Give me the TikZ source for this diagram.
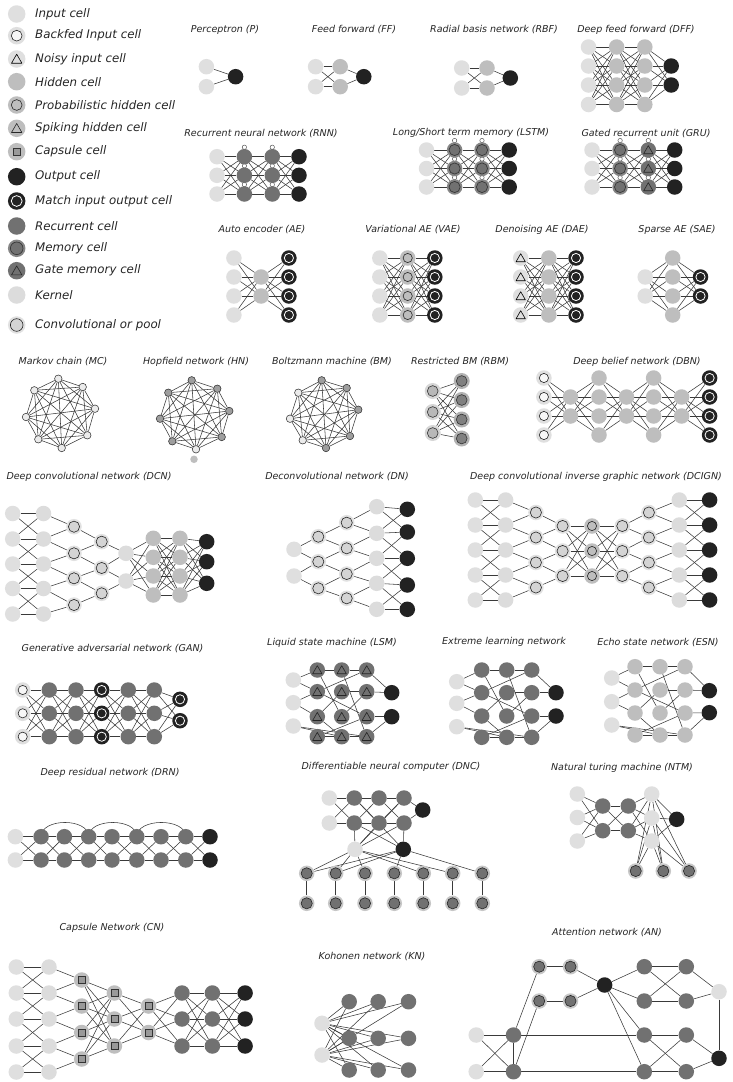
\documentclass[tikz,border=0pt]{standalone}
\usepackage{fontspec}
\setmainfont{DejaVu Sans}
\usetikzlibrary{calc}
\definecolor{cInC}{HTML}{DFDFDF}
\definecolor{cKernC}{HTML}{DCDCDC}
\definecolor{cConvC}{HTML}{D4D4D4}
\definecolor{cHidC}{HTML}{BEBEBE}
\definecolor{cRecC}{HTML}{717171}
\definecolor{cOutC}{HTML}{222222}
\definecolor{lnC}{HTML}{3A3A3A}
\pgfdeclarelayer{back}\pgfdeclarelayer{bg}\pgfsetlayers{back,bg,main}
\def\ri{4.6pt}\def\rc{5.6pt}\def\rs{3.4pt}\def\rt{5.4pt}
\newcommand\mytri[1]{\draw[#1, line width=0.6pt, line join=round] (path picture bounding box.center) ++(0pt,{0.8*\rt}) -- ++({-0.866*\rt},{-1.5*\rt}) -- ++({1.732*\rt},0pt) -- cycle;}
\tikzset{
 ln/.style={draw=lnC, line width=0.55pt},
 cell/.style={circle, inner sep=0pt, minimum size=15.5pt, draw=none},
 cIn/.style={cell, fill=cInC},
 cKern/.style={cell, fill=cKernC},
 cHid/.style={cell, fill=cHidC},
 cRec/.style={cell, fill=cRecC},
 cOut/.style={cell, fill=cOutC},
 cBack/.style={cIn, path picture={\draw[black!85, fill=white!75!cInC, line width=0.6pt] (path picture bounding box.center) circle (\ri);}},
 cConv/.style={cell, fill=cConvC!70!white, path picture={\draw[black!85, fill=cConvC, line width=0.6pt] (path picture bounding box.center) circle (\rc);}},
 cProb/.style={cHid, path picture={\draw[black!85, line width=0.6pt] (path picture bounding box.center) circle (\ri);}},
 cMatch/.style={cOut, path picture={\draw[white, line width=0.8pt] (path picture bounding box.center) circle (\ri);}},
 cMem/.style={cell, fill=black!48, path picture={\draw[black!78, fill=cRecC, line width=0.7pt] (path picture bounding box.center) circle (\rc);}},
 cMemL/.style={cell, fill=black!22, path picture={\draw[black!85, fill=cRecC, line width=0.6pt] (path picture bounding box.center) circle (\rc);}},
 cNoisy/.style={cIn, path picture={\mytri{black}}},
 cSpike/.style={cHid, path picture={\mytri{black!85}}},
 cGate/.style={cRec, path picture={\mytri{black!85}}},
 cCaps/.style={cHid, path picture={\draw[black!80, fill=black!40, line width=0.6pt] (path picture bounding box.center) ++(-\rs,-\rs) rectangle ++({2*\rs},{2*\rs});}},
 cRbmL/.style={cell, minimum size=16pt, fill=black!16, path picture={\draw[black!80, fill=black!28, line width=0.6pt] (path picture bounding box.center) circle (5.4pt);}},
 cRbmR/.style={cell, minimum size=16pt, fill=black!30, path picture={\draw[black!80, fill=black!50, line width=0.6pt] (path picture bounding box.center) circle (5.4pt);}},
 cSm/.style={circle, draw=black!85, line width=0.5pt, inner sep=0pt, minimum size=7.5pt, fill=#1},
 cSm/.default={black!8},
 ttl/.style={font=\fontsize{9.5}{11}\selectfont\itshape, text=black!85, inner sep=0pt},
 lgt/.style={font=\fontsize{11.8}{13}\selectfont\itshape, text=black!85, anchor=west, inner sep=0pt},
}
\newcommand\bgl[1]{\begin{pgfonlayer}{bg}#1\end{pgfonlayer}}
\newcommand\edg[2]{\draw[ln] (#1) -- (#2);}
\newcommand\ncol[4]{\foreach \yy [count=\kq] in {#4}{\node[#2] (#1\kq) at (#3,\yy) {};}}
\newcommand\fullc[4]{\foreach \ii in {1,...,#2}{\foreach \jj in {1,...,#4}{\edg{#1\ii}{#3\jj}}}}
\newcommand\zigc[3]{\foreach \jj [evaluate=\jj as \kk using int(\jj+1)] in {1,...,#3}{\edg{#1\jj}{#2\jj}\edg{#1\kk}{#2\jj}}}
\newcommand\kerx[3]{\foreach \jj in {1,...,#3}{\edg{#1\jj}{#2\jj}}\foreach \kk [evaluate=\kk as \jj using int(\kk-1)] in {2,...,#3}{\edg{#1\jj}{#2\kk}\edg{#1\kk}{#2\jj}}}
\newcommand\loopc[2]{\foreach \kq in {1,...,#2}{\draw[black!70,line width=0.45pt,fill=white] ([yshift=1.5pt]#1\kq.north) circle (2.2pt);}}
\newcommand\kgraph[1]{\foreach \ii in {1,...,8}{\foreach \jj in {1,...,8}{\ifnum\ii<\jj\relax\edg{#1\ii}{#1\jj}\fi}}}
\newcommand\lsmedges[1]{\edg{#1I1}{#1A1}\edg{#1I1}{#1A2}\edg{#1I2}{#1A2}\edg{#1I2}{#1A3}\edg{#1I3}{#1B4}\edg{#1I3}{#1C4}%
\edg{#1A1}{#1B1}\edg{#1B1}{#1C1}\edg{#1A2}{#1C1}\edg{#1A2}{#1C3}\edg{#1B1}{#1C4}\edg{#1B2}{#1C2}\edg{#1A3}{#1B2}\edg{#1A3}{#1B4}%
\edg{#1A4}{#1B4}\edg{#1B4}{#1C4}\edg{#1B3}{#1C2}\edg{#1A4}{#1C3}\edg{#1A1}{#1B3}%
\edg{#1C1}{#1O1}\edg{#1C2}{#1O1}\edg{#1C3}{#1O2}\edg{#1C4}{#1O2}}
\begin{document}
\begin{tikzpicture}[x=1pt,y=-1pt]
\useasboundingbox (0,0) rectangle (732,1082);
\begin{pgfonlayer}{back}\fill[white] (0,0) rectangle (732,1082);\end{pgfonlayer}

% ---------------- legend
\begin{scope}
\def\ri{5.4pt}\def\rc{6.3pt}\def\rs{3.9pt}\def\rt{6pt}
\tikzset{lgc/.style={minimum size=17.5pt}}
\node[cIn,lgc] (lc1) at (16.7,14) {};
\node[cBack,lgc] (lc2) at (16.7,35.7) {};
\node[cNoisy,lgc] (lc3) at (16.7,59) {};
\node[cHid,lgc] (lc4) at (16.7,81.7) {};
\node[cProb,lgc] (lc5) at (16.7,105) {};
\node[cSpike,lgc] (lc6) at (16.7,128.3) {};
\node[cCaps,lgc] (lc7) at (16.7,151.7) {};
\node[cOut,lgc] (lc8) at (16.7,176.7) {};
\node[cMatch,lgc] (lc9) at (16.7,201) {};
\node[cRec,lgc] (lc10) at (16.7,226) {};
\node[cMem,lgc] (lc11) at (16.7,248.3) {};
\node[cGate,lgc] (lc12) at (16.7,270.7) {};
\node[cKern,lgc] (lc13) at (16.7,295) {};
\node[cConv,lgc] (lc14) at (16.7,325) {};
\end{scope}
\node[lgt] (lt1) at (35,14) {Input cell};
\node[lgt] (lt2) at (35,35.7) {Backfed Input cell};
\node[lgt] (lt3) at (35,59) {Noisy input cell};
\node[lgt] (lt4) at (35,81.7) {Hidden cell};
\node[lgt] (lt5) at (35,105) {Probabilistic hidden cell};
\node[lgt] (lt6) at (35,128.3) {Spiking hidden cell};
\node[lgt] (lt7) at (35,151.7) {Capsule cell};
\node[lgt] (lt8) at (35,176.7) {Output cell};
\node[lgt] (lt9) at (35,201) {Match input output cell};
\node[lgt] (lt10) at (35,226) {Recurrent cell};
\node[lgt] (lt11) at (35,248.3) {Memory cell};
\node[lgt] (lt12) at (35,270.7) {Gate memory cell};
\node[lgt] (lt13) at (35,295) {Kernel};
\node[lgt] (lt14) at (35,325) {Convolutional or pool};

% ---------------- titles
\node[ttl] (tP) at (225,30) {Perceptron (P)};
\node[ttl] (tFF) at (354,30) {Feed forward (FF)};
\node[ttl] (tRBF) at (494,30) {Radial basis network (RBF)};
\node[ttl] (tDFF) at (636,30) {Deep feed forward (DFF)};
\node[ttl] (tRNN) at (261,133.3) {Recurrent neural network (RNN)};
\node[ttl] (tLSTM) at (471,133.3) {Long/Short term memory (LSTM)};
\node[ttl] (tGRU) at (646,133.3) {Gated recurrent unit (GRU)};
\node[ttl] (tAE) at (262,230) {Auto encoder (AE)};
\node[ttl] (tVAE) at (413,230) {Variational AE (VAE)};
\node[ttl] (tDAE) at (542,230) {Denoising AE (DAE)};
\node[ttl] (tSAE) at (677,230) {Sparse AE (SAE)};
\node[ttl] (tMC) at (63,362) {Markov chain (MC)};
\node[ttl] (tHN) at (196,362) {Hopfield network (HN)};
\node[ttl] (tBM) at (332,362) {Boltzmann machine (BM)};
\node[ttl] (tRBM) at (460,362) {Restricted BM (RBM)};
\node[ttl] (tDBN) at (637,362) {Deep belief network (DBN)};
\node[ttl] (tDCN) at (89,477) {Deep convolutional network (DCN)};
\node[ttl] (tDN) at (337,477) {Deconvolutional network (DN)};
\node[ttl] (tDCIGN) at (596,477) {Deep convolutional inverse graphic network (DCIGN)};
\node[ttl] (tGAN) at (112.5,649) {Generative adversarial network (GAN)};
\node[ttl] (tLSM) at (332,643) {Liquid state machine (LSM)};
\node[ttl] (tELN) at (504,642) {Extreme learning network};
\node[ttl] (tESN) at (658,643) {Echo state network (ESN)};
\node[ttl] (tDRN) at (110,773) {Deep residual network (DRN)};
\node[ttl] (tDNC) at (391,767) {Differentiable neural computer (DNC)};
\node[ttl] (tNTM) at (622,768) {Natural turing machine (NTM)};
\node[ttl] (tCN) at (112,928) {Capsule Network (CN)};
\node[ttl] (tKN) at (372,957) {Kohonen network (KN)};
\node[ttl] (tAN) at (607,933) {Attention network (AN)};

% ---------------- P, FF, RBF, DFF
\ncol{pA}{cIn}{206.4}{66.7,86.7}\ncol{pB}{cOut}{235.6}{76.7}
\ncol{ffA}{cIn}{315.6}{66.7,86.7}\ncol{ffB}{cHid}{340.2}{66.7,86.7}\ncol{ffC}{cOut}{363.8}{76.7}
\ncol{rbA}{cIn}{461.7}{68,88}\ncol{rbB}{cHid}{487}{68,88}\ncol{rbC}{cOut}{510.3}{78}
\ncol{dfA}{cIn}{588.5}{47,66,85,104.5}\ncol{dfB}{cHid}{616.6}{47,66,85,104.5}
\ncol{dfC}{cHid}{644.8}{47,66,85,104.5}\ncol{dfD}{cOut}{671.2}{66,85}
\bgl{\fullc{pA}{2}{pB}{1}
\fullc{ffA}{2}{ffB}{2}\fullc{ffB}{2}{ffC}{1}
\fullc{rbA}{2}{rbB}{2}\fullc{rbB}{2}{rbC}{1}
\fullc{dfA}{4}{dfB}{4}\fullc{dfB}{4}{dfC}{4}\fullc{dfC}{4}{dfD}{2}}

% ---------------- RNN, LSTM, GRU
\ncol{rnA}{cIn}{217}{156.7,175.3,194}\ncol{rnB}{cRec}{244.4}{156.7,175.3,194}
\ncol{rnC}{cRec}{272.3}{156.7,175.3,194}\ncol{rnD}{cOut}{299}{156.7,175.3,194}
\ncol{lsA}{cIn}{426.5}{150,168.5,187}\ncol{lsB}{cMem}{454.6}{150,168.5,187}
\ncol{lsC}{cMem}{482}{150,168.5,187}\ncol{lsD}{cOut}{509.2}{150,168.5,187}
\ncol{grA}{cIn}{592}{150,168.5,187}\ncol{grB}{cMem}{620.1}{150,168.5,187}
\ncol{grC}{cGate}{648.3}{150,168.5,187}\ncol{grD}{cOut}{674.7}{150,168.5,187}
\bgl{\fullc{rnA}{3}{rnB}{3}\fullc{rnB}{3}{rnC}{3}\fullc{rnC}{3}{rnD}{3}\loopc{rnB}{3}\loopc{rnC}{3}
\fullc{lsA}{3}{lsB}{3}\fullc{lsB}{3}{lsC}{3}\fullc{lsC}{3}{lsD}{3}\loopc{lsB}{3}\loopc{lsC}{3}
\fullc{grA}{3}{grB}{3}\fullc{grB}{3}{grC}{3}\fullc{grC}{3}{grD}{3}\loopc{grB}{3}\loopc{grC}{3}}

% ---------------- AE, VAE, DAE, SAE
\ncol{aeA}{cIn}{233.9}{258,277,296,315}\ncol{aeB}{cHid}{261.1}{277,296}\ncol{aeC}{cMatch}{288.9}{258,277,296,315}
\ncol{vaA}{cIn}{379.8}{258,277,296,315}\ncol{vaB}{cProb}{407.7}{258,277,296,315}\ncol{vaC}{cMatch}{434.8}{258,277,296,315}
\ncol{daA}{cNoisy}{520.7}{258,277,296,315}\ncol{daB}{cHid}{548.8}{258,277,296,315}\ncol{daC}{cMatch}{576}{258,277,296,315}
\ncol{saA}{cIn}{645.2}{277,296}\ncol{saB}{cHid}{672.7}{258,277,296,315}\ncol{saC}{cMatch}{700.5}{277,296}
\bgl{\fullc{aeA}{4}{aeB}{2}\fullc{aeB}{2}{aeC}{4}
\fullc{vaA}{4}{vaB}{4}\fullc{vaB}{4}{vaC}{4}
\fullc{daA}{4}{daB}{4}\fullc{daB}{4}{daC}{4}
\fullc{saA}{2}{saB}{4}\fullc{saB}{4}{saC}{2}}

% ---------------- MC, HN, BM
\node[cSm] (mc1) at (58.3,378.7) {};
\node[cSm] (mc2) at (82.7,387) {};
\node[cSm] (mc3) at (95,408.7) {};
\node[cSm] (mc4) at (87.3,435.3) {};
\node[cSm] (mc5) at (61.7,448) {};
\node[cSm] (mc6) at (38.3,439.3) {};
\node[cSm] (mc7) at (26,417) {};
\node[cSm] (mc8) at (34.3,390.3) {};
\node[cSm=black!38] (hn1) at (191.7,380.3) {};
\node[cSm=black!38] (hn2) at (217.3,388.7) {};
\node[cSm=black!38] (hn3) at (229.3,411) {};
\node[cSm=black!38] (hn4) at (221.7,437) {};
\node[cSm] (hn5) at (196,449.3) {};
\node[cSm=black!38] (hn6) at (172.3,441.3) {};
\node[cSm=black!38] (hn7) at (160,418.7) {};
\node[cSm=black!38] (hn8) at (168.3,392.7) {};
\node[circle, fill=cHidC, inner sep=0pt, minimum size=7.5pt] (hnX) at (194,459.3) {};
\node[cSm=black!38] (bm1) at (321.7,380.3) {};
\node[cSm=black!38] (bm2) at (346.7,388) {};
\node[cSm=black!38] (bm3) at (358.3,409.7) {};
\node[cSm=black!38] (bm4) at (350,436) {};
\node[cSm=black!38] (bm5) at (326,448) {};
\node[cSm] (bm6) at (302.7,440.3) {};
\node[cSm] (bm7) at (290,418.7) {};
\node[cSm] (bm8) at (298.3,392.7) {};
\bgl{\kgraph{mc}\kgraph{hn}\kgraph{bm}}

% ---------------- RBM, DBN
\ncol{rmA}{cRbmL}{432.7}{391,412,433}\ncol{rmB}{cRbmR}{461.7}{381,400,419.5,438.5}
\ncol{dbA}{cBack}{543.9}{378,397,416,435}\ncol{dbB}{cHid}{570.5}{397,416}
\ncol{dbC}{cHid}{599}{378,397,416,435}\ncol{dbD}{cHid}{626.5}{397,416}
\ncol{dbE}{cHid}{653.6}{378,397,416,435}\ncol{dbF}{cHid}{681.6}{397,416}
\ncol{dbG}{cMatch}{709.6}{378,397,416,435}
\bgl{\fullc{rmA}{3}{rmB}{4}
\fullc{dbA}{4}{dbB}{2}\fullc{dbB}{2}{dbC}{4}\fullc{dbC}{4}{dbD}{2}\fullc{dbD}{2}{dbE}{4}\fullc{dbE}{4}{dbF}{2}\fullc{dbF}{2}{dbG}{4}}

% ---------------- DCN
\ncol{dcA}{cIn}{12.7}{513.5,539,564,588.5,614}
\ncol{dcB}{cKern}{43.5}{513.5,539,564,588.5,614}
\ncol{dcC}{cConv}{74}{526.7,553.3,578.3,605}
\ncol{dcD}{cConv}{101.7}{541.7,568,593.3}
\ncol{dcE}{cKern}{126}{553.3,581}
\ncol{dcF}{cHid}{153.3}{538.3,557.3,576,595}
\ncol{dcG}{cHid}{180}{538.3,557.3,576,595}
\ncol{dcH}{cOut}{206.7}{541.7,561.7,583.3}
\bgl{\kerx{dcA}{dcB}{5}\zigc{dcB}{dcC}{4}\zigc{dcC}{dcD}{3}\zigc{dcD}{dcE}{2}
\fullc{dcE}{2}{dcF}{4}\fullc{dcF}{4}{dcG}{4}\fullc{dcG}{4}{dcH}{3}}

% ---------------- DN
\ncol{dnA}{cIn}{294}{549.3,576}
\ncol{dnB}{cConv}{318.3}{536.7,561.7,588.3}
\ncol{dnC}{cConv}{346.7}{522.7,548.3,574,598.3}
\ncol{dnD}{cKern}{376.7}{506.7,533.3,558.3,583.3,609.3}
\ncol{dnE}{cOut}{407.3}{509.3,532,558.3,585,609.3}
\bgl{\zigc{dnB}{dnA}{2}\zigc{dnC}{dnB}{3}\zigc{dnD}{dnC}{4}\kerx{dnD}{dnE}{5}}

% ---------------- DCIGN
\ncol{diA}{cIn}{475.3}{500,525,550,575,600}
\ncol{diB}{cKern}{505.6}{500,525,550,575,600}
\ncol{diC}{cConv}{535.9}{512.5,537.5,562.5,587.5}
\ncol{diD}{cConv}{562.6}{526,551,576}
\ncol{diE}{cProb}{592}{526,551,576}
\ncol{diF}{cConv}{622.3}{526,551,576}
\ncol{diG}{cConv}{648.9}{512.5,537.5,562.5,587.5}
\ncol{diH}{cKern}{679.3}{500,525,550,575,600}
\ncol{diI}{cOut}{709.6}{500,525,550,575,600}
\bgl{\kerx{diA}{diB}{5}\zigc{diB}{diC}{4}\zigc{diC}{diD}{3}\fullc{diD}{3}{diE}{3}\fullc{diE}{3}{diF}{3}
\zigc{diG}{diF}{3}\zigc{diH}{diG}{4}\kerx{diH}{diI}{5}}

% ---------------- GAN
\ncol{gaA}{cBack}{22.7}{690,713.3,736.7}
\ncol{gaB}{cRec}{49.3}{690,713.3,736.7}
\ncol{gaC}{cRec}{76}{690,713.3,736.7}
\ncol{gaD}{cMatch}{101.7}{690,713.3,736.7}
\ncol{gaE}{cRec}{128.3}{690,713.3,736.7}
\ncol{gaF}{cRec}{154.3}{690,713.3,736.7}
\ncol{gaG}{cMatch}{180}{699.3,720.7}
\bgl{\fullc{gaA}{3}{gaB}{3}\fullc{gaB}{3}{gaC}{3}\fullc{gaC}{3}{gaD}{3}\fullc{gaD}{3}{gaE}{3}\fullc{gaE}{3}{gaF}{3}\fullc{gaF}{3}{gaG}{2}}

% ---------------- LSM, ELM, ESN
\ncol{lmI}{cIn}{293.3}{680,702.7,726}
\ncol{lmA}{cGate}{317.3}{670,691.7,716.7,736.7}
\ncol{lmB}{cGate}{341.7}{670,691.7,716.7,736.7}
\ncol{lmC}{cGate}{366.7}{670,691.7,716.7,736.7}
\ncol{lmO}{cOut}{391.7}{692.7,716.7}
\ncol{elI}{cIn}{456.7}{681.7,703.3,726.7}
\ncol{elA}{cRec}{481.7}{670,692.7,716,737.3}
\ncol{elB}{cRec}{506.7}{670,692.7,716,737.3}
\ncol{elC}{cRec}{531.7}{670,692.7,716,737.3}
\ncol{elO}{cOut}{556}{692.7,716}
\ncol{esI}{cIn}{611.7}{678,701.7,725}
\ncol{esA}{cHid}{635}{666.7,690,713,735}
\ncol{esB}{cHid}{660}{666.7,690,713,735}
\ncol{esC}{cHid}{685}{666.7,690,713,735}
\ncol{esO}{cOut}{709.3}{690.7,712.7}
\bgl{\lsmedges{lm}\lsmedges{el}\lsmedges{es}}

% ---------------- DRN
\ncol{drI}{cIn}{15.4}{836.7,860}
\ncol{drA}{cRec}{41.1}{836.7,860}
\ncol{drB}{cRec}{64.4}{836.7,860}
\ncol{drC}{cRec}{88.7}{836.7,860}
\ncol{drD}{cRec}{112}{836.7,860}
\ncol{drE}{cRec}{136.8}{836.7,860}
\ncol{drF}{cRec}{161}{836.7,860}
\ncol{drG}{cRec}{185.8}{836.7,860}
\ncol{drO}{cOut}{210}{836.7,860}
\bgl{\fullc{drI}{2}{drA}{2}\fullc{drA}{2}{drB}{2}\fullc{drB}{2}{drC}{2}\fullc{drC}{2}{drD}{2}
\fullc{drD}{2}{drE}{2}\fullc{drE}{2}{drF}{2}\fullc{drF}{2}{drG}{2}\fullc{drG}{2}{drO}{2}
\draw[ln] (drA1.center) .. controls +(0pt,19pt) and +(0pt,19pt) .. (drC1.center);
\draw[ln] (drC1.center) .. controls +(0pt,19pt) and +(0pt,19pt) .. (drE1.center);
\draw[ln] (drE1.center) .. controls +(0pt,19pt) and +(0pt,19pt) .. (drG1.center);}

% ---------------- DNC
\ncol{ncI}{cIn}{329.3}{798,823}
\ncol{ncA}{cRec}{354.3}{798,823}
\ncol{ncB}{cRec}{379}{798,823}
\ncol{ncC}{cRec}{404}{798,823}
\node[cOut] (ncO) at (422.7,810) {};
\node[cIn] (ncL) at (355,849.3) {};
\node[cOut] (ncK) at (403.3,849.3) {};
\foreach \xx [count=\kq] in {306.7,335.7,365,394.3,423.3,452.7,482.3}{\node[cMemL] (ncM\kq) at (\xx,873.3) {};\node[cMemL] (ncN\kq) at (\xx,903.3) {};}
\bgl{\foreach \kq in {1,...,7}{\edg{ncM\kq}{ncN\kq}}
\fullc{ncI}{2}{ncA}{2}\fullc{ncA}{2}{ncB}{2}\fullc{ncB}{2}{ncC}{2}
\edg{ncC1}{ncO}\edg{ncC2}{ncO}\edg{ncA2}{ncL}\edg{ncC2}{ncK}
\edg{ncL}{ncB2}\edg{ncL}{ncC1}\edg{ncL}{ncC2}\edg{ncA1}{ncK}\edg{ncA2}{ncK}
\edg{ncL}{ncM1}\edg{ncL}{ncM2}\edg{ncL}{ncM3}\edg{ncL}{ncM5}\edg{ncL}{ncM6}
\edg{ncK}{ncM1}\edg{ncK}{ncM2}\edg{ncK}{ncM4}\edg{ncK}{ncM7}}

% ---------------- NTM
\ncol{tmI}{cIn}{577.3}{794,817.5,841}
\ncol{tmA}{cRec}{602.7}{806,830.7}
\ncol{tmB}{cRec}{628.3}{806,830.7}
\ncol{tmL}{cIn}{651.7}{794,818,841}
\node[cOut] (tmO) at (676.7,819.3) {};
\foreach \xx [count=\kq] in {635.7,663.3,689}{\node[cMemL] (tmM\kq) at (\xx,871) {};}
\bgl{\fullc{tmI}{3}{tmA}{2}\fullc{tmA}{2}{tmB}{2}\fullc{tmB}{2}{tmL}{3}
\edg{tmL1}{tmO}\edg{tmL2}{tmO}\edg{tmL3}{tmO}\fullc{tmL}{3}{tmM}{3}}

% ---------------- CN
\ncol{cnA}{cIn}{16.3}{967,993,1019,1046,1072}
\ncol{cnB}{cKern}{49}{967,993,1019,1046,1072}
\ncol{cnC}{cCaps}{81.7}{980,1006,1032.5,1059}
\ncol{cnD}{cCaps}{114.4}{993,1019,1046}
\ncol{cnE}{cCaps}{148.5}{1006,1032.5}
\ncol{cnF}{cRec}{182}{993,1019,1046}
\ncol{cnG}{cRec}{212.4}{993,1019,1046}
\ncol{cnH}{cOut}{245.1}{993,1019,1046}
\bgl{\kerx{cnA}{cnB}{5}\zigc{cnB}{cnC}{4}\fullc{cnC}{4}{cnD}{3}\fullc{cnD}{3}{cnE}{2}
\fullc{cnE}{2}{cnF}{3}\fullc{cnF}{3}{cnG}{3}\fullc{cnG}{3}{cnH}{3}}

% ---------------- KN
\ncol{knI}{cIn}{322}{1023.3,1055}
\ncol{knA}{cRec}{349.2}{1001.7,1038.3,1070}
\ncol{knB}{cRec}{378.2}{1001.7,1038.3,1070}
\ncol{knC}{cRec}{408.5}{1001.7,1038.3,1070}
\bgl{\fullc{knI}{2}{knA}{3}\fullc{knI}{2}{knB}{3}\fullc{knI}{2}{knC}{3}}

% ---------------- AN
\ncol{anI}{cIn}{476.2}{1035,1071.7}
\ncol{anA}{cRec}{513.5}{1035,1071.7}
\ncol{anM}{cMemL}{539.2}{966.7,1001}
\ncol{anN}{cMemL}{570.5}{966.7,1001}
\node[cOut] (anK) at (604.6,985) {};
\ncol{anU}{cRec}{644.3}{966.7,1001}
\ncol{anV}{cRec}{686.3}{966.7,1001}
\node[cIn] (anL) at (719,991.7) {};
\ncol{anP}{cRec}{644.3}{1035,1071.7}
\ncol{anQ}{cRec}{686.3}{1035,1071.7}
\node[cOut] (anO) at (719,1058.3) {};
\bgl{\fullc{anI}{2}{anA}{2}\edg{anA1}{anA2}\edg{anA1}{anM1}\edg{anA2}{anM2}
\edg{anM1}{anN1}\edg{anM2}{anN2}\edg{anN1}{anK}\edg{anN2}{anK}
\edg{anK}{anU1}\edg{anK}{anU2}\fullc{anU}{2}{anV}{2}\edg{anV1}{anL}\edg{anV2}{anL}\edg{anL}{anO}
\edg{anK}{anP1}\edg{anK}{anP2}\fullc{anP}{2}{anQ}{2}\edg{anQ1}{anO}\edg{anQ2}{anO}
\edg{anA1}{anP1}\edg{anA2}{anP2}}
\end{tikzpicture}
\end{document}
